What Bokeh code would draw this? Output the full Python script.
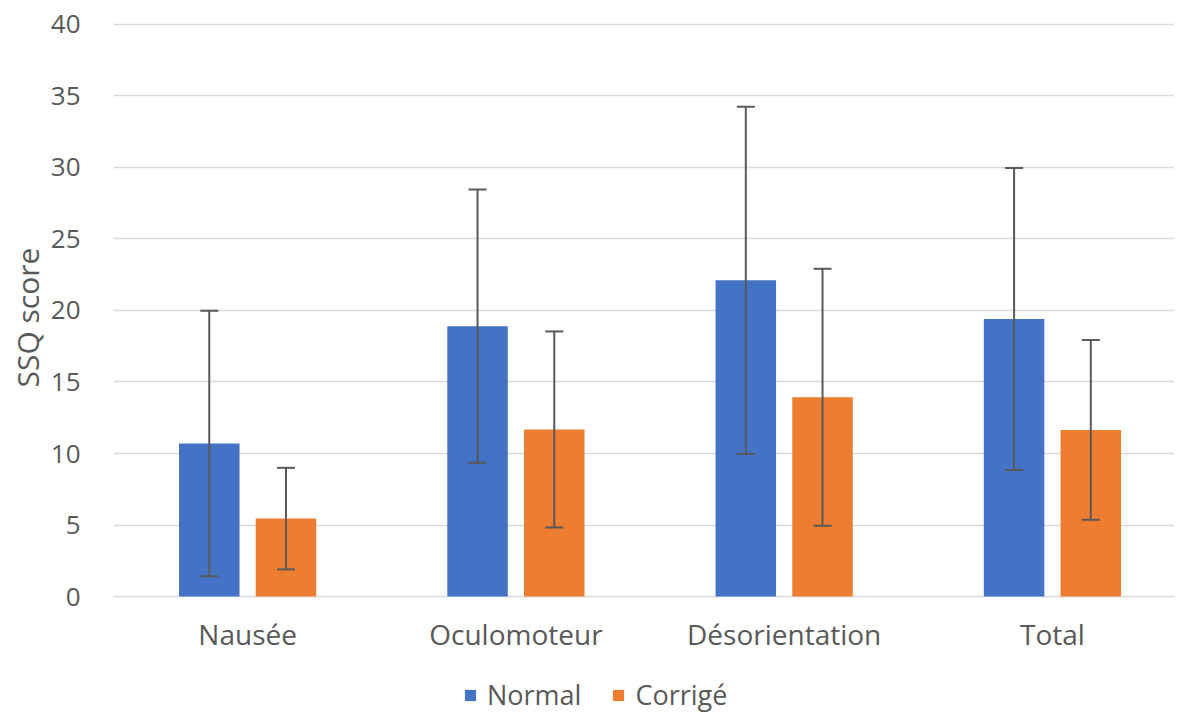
from bokeh.plotting import figure
from bokeh.models import (ColumnDataSource, Range1d, FixedTicker, Whisker, TeeHead,
                          Legend, LegendItem, Title)
from bokeh.embed import file_html
from bokeh.resources import INLINE

categories = ["Nausée", "Oculomoteur", "Désorientation", "Total"]
series_names = ["Normal", "Corrigé"]
normal_mean = [10.7, 18.9, 22.1, 19.4]
normal_sd = [9.27, 9.55, 12.13, 10.56]
corrige_mean = [5.45, 11.68, 13.93, 11.65]
corrige_sd = [3.55, 6.85, 8.98, 6.28]
y_ticks = [0, 5, 10, 15, 20, 25, 30, 35, 40]
y_title = "SSQ score"

FONT = "Open Sans"
TXT = "#595959"
BLUE = "#4472C4"
ORANGE = "#ED7D31"
BAR_W = 0.2255
OFF = 0.143

centers = [i + 0.5 for i in range(len(categories))]

src_n = ColumnDataSource(dict(
    x=[c - OFF for c in centers], top=normal_mean,
    upper=[m + s for m, s in zip(normal_mean, normal_sd)],
    lower=[m - s for m, s in zip(normal_mean, normal_sd)]))
src_c = ColumnDataSource(dict(
    x=[c + OFF for c in centers], top=corrige_mean,
    upper=[m + s for m, s in zip(corrige_mean, corrige_sd)],
    lower=[m - s for m, s in zip(corrige_mean, corrige_sd)]))

# the frame reaches the bottom edge so that the legend under the category labels is drawn
p = figure(width=1174, height=714, output_backend="svg", toolbar_location=None,
           x_range=Range1d(0, 3.955), y_range=Range1d(-8.24, 40.4),
           min_border_left=113, min_border_right=0, min_border_top=18,
           min_border_bottom=0)
p.outline_line_color = None

rn = p.vbar(x="x", top="top", bottom=0, width=BAR_W, source=src_n,
            fill_color=BLUE, line_color=None)
rc = p.vbar(x="x", top="top", bottom=0, width=BAR_W, source=src_c,
            fill_color=ORANGE, line_color=None)

for src in (src_n, src_c):
    w = Whisker(base="x", upper="upper", lower="lower", source=src,
                line_color=TXT, line_width=2, level="overlay",
                upper_head=TeeHead(size=18, line_color=TXT, line_width=2),
                lower_head=TeeHead(size=18, line_color=TXT, line_width=2))
    p.add_layout(w)

# axes
p.xgrid.visible = False
p.ygrid.grid_line_color = "#d9d9d9"
p.ygrid.grid_line_width = 1.5
p.yaxis.ticker = FixedTicker(ticks=y_ticks)
p.xaxis.ticker = FixedTicker(ticks=centers)
p.xaxis.major_label_overrides = {c: lab for c, lab in zip(centers, categories)}
p.xaxis.fixed_location = 0

for ax in (p.xaxis[0], p.yaxis[0]):
    ax.axis_line_color = None
    ax.major_tick_line_color = None
    ax.minor_tick_line_color = None
    ax.major_label_text_font = FONT
    ax.major_label_text_color = TXT

p.yaxis.major_label_text_font_size = "26px"
p.xaxis.major_label_text_font_size = "28px"
p.yaxis.major_label_standoff = 27
p.xaxis.major_label_standoff = 12

ytitle = Title(text=y_title, align="left", offset=327, standoff=0,
               text_font=FONT, text_font_size="30px", text_font_style="normal",
               text_color=TXT)
p.add_layout(ytitle, "left")

legend = Legend(items=[LegendItem(label=series_names[0], renderers=[rn]),
                       LegendItem(label=series_names[1], renderers=[rc])],
                orientation="horizontal", location=(350, 1),
                border_line_color=None, background_fill_alpha=0,
                padding=0, margin=0, spacing=30,
                glyph_width=14, glyph_height=14, label_standoff=10,
                label_text_font=FONT, label_text_font_size="27px",
                label_text_color=TXT)
p.add_layout(legend)

open("out.html", "w").write(file_html(p, INLINE))
